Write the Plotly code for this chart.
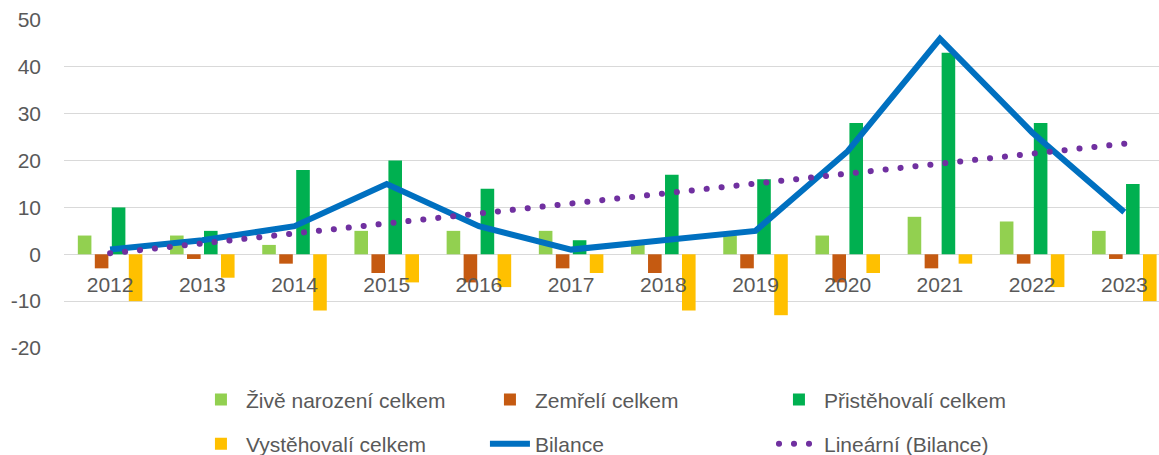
import plotly.graph_objects as go

years = ["2012", "2013", "2014", "2015", "2016", "2017", "2018", "2019", "2020", "2021", "2022", "2023"]
zive_narozeni = [4, 4, 2, 5, 5, 5, 2, 4, 4, 8, 7, 5]
zemreli = [-3, -1, -2, -4, -6, -3, -4, -3, -6, -3, -2, -1]
pristehovali = [10, 5, 18, 20, 14, 3, 17, 16, 28, 43, 28, 15]
vystehovali = [-10, -5, -12, -6, -7, -4, -12, -13, -4, -2, -7, -10]
bilance = [1, 3, 6, 15, 6, 1, 3, 5, 22, 46, 26, 9]
trend_years = ["2012", "2023"]
trend_values = [0.2, 23.6]
y_ticks = [-20, -10, 0, 10, 20, 30, 40, 50]
y_tick_labels = ["-20", "-10", "0", "10", "20", "30", "40", "50"]

FONT = "Liberation Sans, Arial, sans-serif"
TXT = "#595959"
GRID = "#D9D9D9"

fig = go.Figure()
fig.add_trace(go.Bar(x=years, y=zive_narozeni, name="Živě narození celkem",
                     marker=dict(color="#92D050", line=dict(width=0)), legend="legend"))
fig.add_trace(go.Bar(x=years, y=zemreli, name="Zemřelí celkem",
                     marker=dict(color="#C55A11", line=dict(width=0)), legend="legend"))
fig.add_trace(go.Bar(x=years, y=pristehovali, name="Přistěhovalí celkem",
                     marker=dict(color="#00B050", line=dict(width=0)), legend="legend"))
fig.add_trace(go.Bar(x=years, y=vystehovali, name="Vystěhovalí celkem",
                     marker=dict(color="#FFC000", line=dict(width=0)), legend="legend2"))
fig.add_trace(go.Scatter(x=years, y=bilance, name="Bilance", mode="lines",
                         line=dict(color="#0070C0", width=6), legend="legend2"))
fig.add_trace(go.Scatter(x=trend_years, y=trend_values, name="Lineární (Bilance)", mode="lines",
                         line=dict(color="#7030A0", width=6, dash="0.1px,14.9px"), legend="legend2"))

common_legend = dict(orientation="h", xanchor="left", yanchor="middle",
                     font=dict(family=FONT, size=21, color=TXT),
                     entrywidth=234, entrywidthmode="pixels", itemwidth=40,
                     bgcolor="rgba(0,0,0,0)", traceorder="normal")

fig.update_layout(
    width=1159, height=455,
    margin=dict(l=64, r=0, t=20, b=107, autoexpand=False),
    paper_bgcolor="white", plot_bgcolor="white",
    barmode="group", bargap=0.263, bargroupgap=0.2,
    font=dict(family=FONT, size=21, color=TXT),
    legend=dict(x=0.1205, y=-0.158, **common_legend),
    legend2=dict(x=0.1205, y=-0.293, **common_legend),
    xaxis=dict(type="category", range=[-0.5, 11.376], anchor="free", position=(20 / 70),
               showgrid=False, showline=False, zeroline=False,
               ticks="outside", ticklen=12, tickcolor="rgba(0,0,0,0)",
               tickfont=dict(family=FONT, size=21, color=TXT)),
    yaxis=dict(range=[-20, 50], tickvals=y_ticks, ticktext=y_tick_labels,
               showgrid=True, gridcolor=GRID, gridwidth=1,
               zeroline=True, zerolinecolor=GRID, zerolinewidth=1, showline=False,
               ticks="", ticklabelstandoff=22,
               tickfont=dict(family=FONT, size=21, color=TXT)),
)

post = """
document.body.style.margin = '0';
var gd = document.getElementById('{plot_id}');
function fixDots(){
  gd.querySelectorAll('path').forEach(function(p){
    var d = p.style.strokeDasharray || '';
    if (d.indexOf('14.9') >= 0) { p.style.strokeLinecap = 'round'; }
  });
}
fixDots();
gd.on('plotly_afterplot', fixDots);
"""
fig.write_html("out.html", post_script=post, config={"displayModeBar": False})
